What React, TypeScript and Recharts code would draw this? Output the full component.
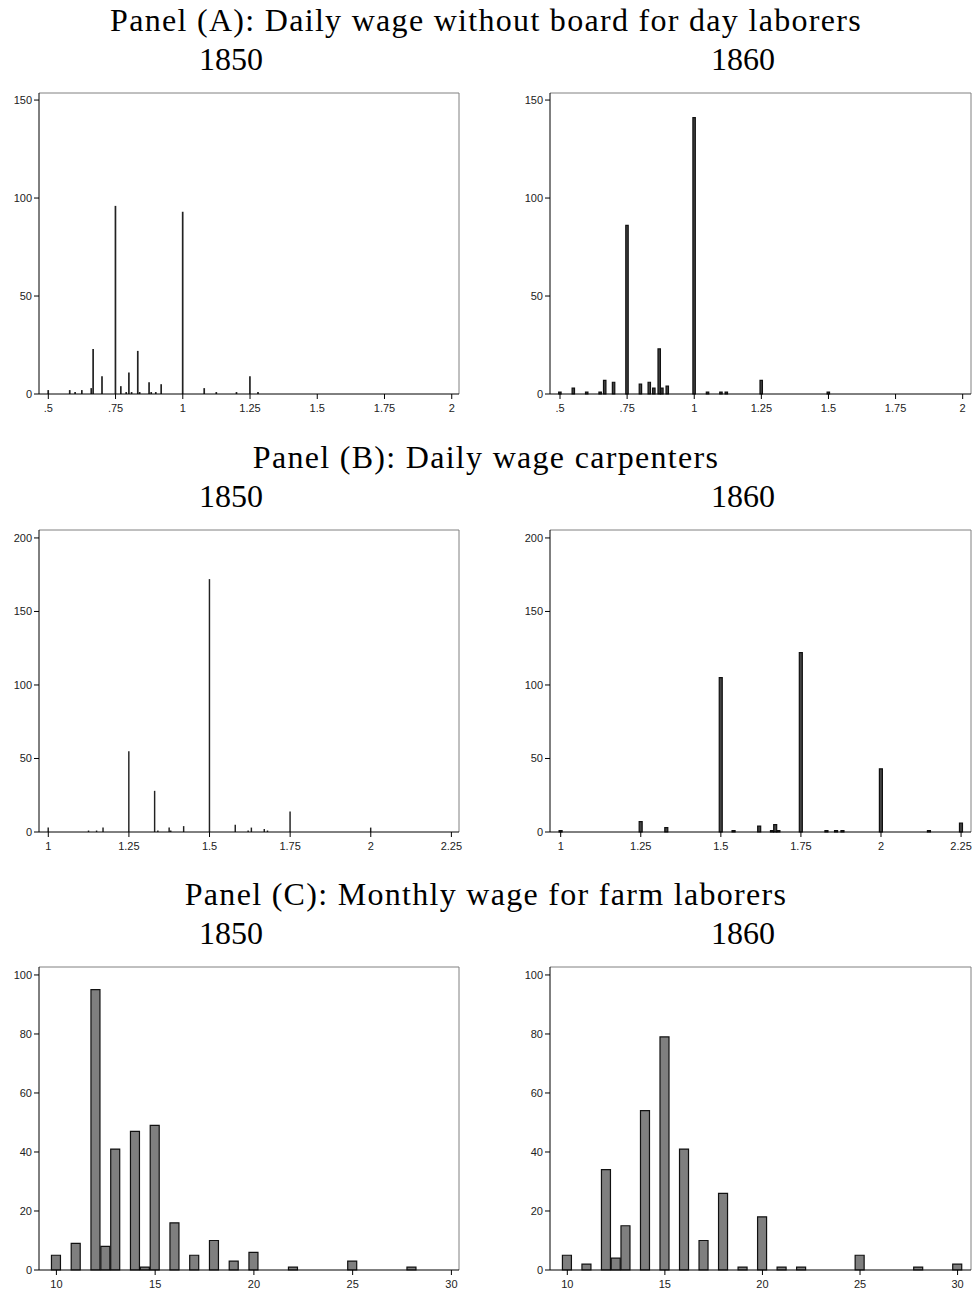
import React from 'react';
import { BarChart, Bar, XAxis, YAxis, ReferenceLine } from 'recharts';

// Panel A: daily wage without board, day laborers
const aWage1850 = [0.5, 0.58, 0.6, 0.625, 0.66, 0.667, 0.7, 0.75, 0.77, 0.79, 0.8, 0.81, 0.833, 0.84, 0.875, 0.883, 0.9, 0.92, 1.0, 1.08, 1.125, 1.2, 1.25, 1.28];
const aCount1850 = [2, 2, 1, 2, 3, 23, 9, 96, 4, 1, 11, 1, 22, 1, 6, 1, 1, 5, 93, 3, 1, 1, 9, 1];
const aWage1860 = [0.5, 0.55, 0.6, 0.65, 0.667, 0.7, 0.75, 0.8, 0.833, 0.85, 0.87, 0.88, 0.9, 1.0, 1.05, 1.1, 1.12, 1.25, 1.5];
const aCount1860 = [1, 3, 1, 1, 7, 6, 86, 5, 6, 3, 23, 3, 4, 141, 1, 1, 1, 7, 1];

// Panel B: daily wage carpenters
const bWage1850 = [1.0, 1.125, 1.15, 1.17, 1.25, 1.33, 1.34, 1.375, 1.38, 1.42, 1.5, 1.58, 1.62, 1.63, 1.67, 1.68, 1.75, 2.0];
const bCount1850 = [3, 1, 1, 3, 55, 28, 1, 3, 1, 4, 172, 5, 1, 3, 2, 1, 14, 3];
const bWage1860 = [1.0, 1.25, 1.33, 1.5, 1.54, 1.62, 1.66, 1.67, 1.68, 1.75, 1.83, 1.86, 1.88, 2.0, 2.15, 2.25];
const bCount1860 = [1, 7, 3, 105, 1, 4, 1, 5, 1, 122, 1, 1, 1, 43, 1, 6];

// Panel C: monthly wage for farm laborers
const cWage1850 = [10, 11, 12, 12.5, 13, 14, 14.5, 15, 16, 17, 18, 19, 20, 22, 25, 28];
const cCount1850 = [5, 9, 95, 8, 41, 47, 1, 49, 16, 5, 10, 3, 6, 1, 3, 1];
const cWage1860 = [10, 11, 12, 12.5, 13, 14, 15, 16, 17, 18, 19, 20, 21, 22, 25, 28, 30];
const cCount1860 = [5, 2, 34, 4, 15, 54, 79, 41, 10, 26, 1, 18, 1, 1, 5, 1, 2];

const aTicks = [0.5, 0.75, 1, 1.25, 1.5, 1.75, 2];
const bTicks = [1, 1.25, 1.5, 1.75, 2, 2.25];
const cTicks = [10, 15, 20, 25, 30];
const aYTicks = [0, 50, 100, 150];
const bYTicks = [0, 50, 100, 150, 200];
const cYTicks = [0, 20, 40, 60, 80, 100];

const zip = (xs: number[], ys: number[]) => xs.map((x, i) => ({ x, n: ys[i] }));
const fmt = (v: number) => String(v).replace(/^0\./, '.');

const tickFont = { fontSize: 11, fontFamily: 'Liberation Sans, Arial, sans-serif', fill: '#222' };
const Y_AXIS_W = 39;
const RIGHT_PAD = 14;

interface HistProps {
  data: { x: number; n: number }[];
  left: number;
  top: number;
  plotW: number;
  plotH: number;
  xDomain: [number, number];
  yDomain: [number, number];
  xTicks: number[];
  yTicks: number[];
  barSize: number;
  fill: string;
  stroke?: string;
}

const Hist: React.FC<HistProps> = ({ data, left, top, plotW, plotH, xDomain, yDomain, xTicks, yTicks, barSize, fill, stroke }) => (
  <div style={{ position: 'absolute', left: left - Y_AXIS_W, top: top - 5 }}>
    <BarChart
      width={Y_AXIS_W + plotW + RIGHT_PAD}
      height={5 + plotH + 30}
      data={data}
      margin={{ top: 5, right: RIGHT_PAD, left: 0, bottom: 0 }}
    >
      <XAxis
        dataKey="x"
        type="number"
        domain={xDomain}
        ticks={xTicks}
        tickFormatter={fmt}
        interval={0}
        height={30}
        tickSize={5}
        tickMargin={5}
        tick={tickFont}
        axisLine={{ stroke: '#000' }}
        tickLine={{ stroke: '#000' }}
      />
      <YAxis
        type="number"
        domain={yDomain}
        ticks={yTicks}
        interval={0}
        width={Y_AXIS_W}
        tickSize={5}
        tick={tickFont}
        axisLine={{ stroke: '#000' }}
        tickLine={{ stroke: '#000' }}
      />
      {/* grey frame on top and right, as in the Stata graph */}
      <ReferenceLine y={yDomain[1]} stroke="#808080" ifOverflow="visible" />
      <ReferenceLine x={xDomain[1]} stroke="#808080" ifOverflow="visible" />
      <Bar dataKey="n" barSize={barSize} fill={fill} stroke={stroke} strokeWidth={stroke ? 1.2 : 0} isAnimationActive={false} />
    </BarChart>
  </div>
);

const titleStyle = { fontFamily: 'Liberation Serif, serif', fontSize: 32, fill: '#000', letterSpacing: 1.3 } as const;
const yearStyle = { fontFamily: 'Liberation Serif, serif', fontSize: 32, fill: '#000' } as const;

export default function App() {
  const leftX = 39;
  const rightX = 550;
  return (
    <div style={{ position: 'absolute', left: 0, top: 0, width: 972, height: 1294, background: '#fff', overflow: 'hidden' }}>
      <svg width={972} height={1294} style={{ position: 'absolute', left: 0, top: 0 }}>
        <text x={486} y={31} textAnchor="middle" style={titleStyle}>Panel (A): Daily wage without board for day laborers</text>
        <text x={231} y={70} textAnchor="middle" style={yearStyle}>1850</text>
        <text x={743} y={70} textAnchor="middle" style={yearStyle}>1860</text>
        <text x={486} y={468} textAnchor="middle" style={titleStyle}>Panel (B): Daily wage carpenters</text>
        <text x={231} y={507} textAnchor="middle" style={yearStyle}>1850</text>
        <text x={743} y={507} textAnchor="middle" style={yearStyle}>1860</text>
        <text x={486} y={905} textAnchor="middle" style={titleStyle}>Panel (C): Monthly wage for farm laborers</text>
        <text x={231} y={944} textAnchor="middle" style={yearStyle}>1850</text>
        <text x={743} y={944} textAnchor="middle" style={yearStyle}>1860</text>
      </svg>

      <Hist data={zip(aWage1850, aCount1850)} left={leftX} top={93} plotW={420} plotH={301}
        xDomain={[0.4654, 2.027]} yDomain={[0, 153.6]} xTicks={aTicks} yTicks={aYTicks}
        barSize={2} fill="#222" />
      <Hist data={zip(aWage1860, aCount1860)} left={rightX} top={93} plotW={421} plotH={301}
        xDomain={[0.4627, 2.031]} yDomain={[0, 153.6]} xTicks={aTicks} yTicks={aYTicks}
        barSize={3} fill="#444" stroke="#111" />

      <Hist data={zip(bWage1850, bCount1850)} left={leftX} top={530} plotW={420} plotH={302}
        xDomain={[0.9712, 2.2736]} yDomain={[0, 205.4]} xTicks={bTicks} yTicks={bYTicks}
        barSize={2} fill="#222" />
      <Hist data={zip(bWage1860, bCount1860)} left={rightX} top={530} plotW={421} plotH={302}
        xDomain={[0.9666, 2.281]} yDomain={[0, 205.4]} xTicks={bTicks} yTicks={bYTicks}
        barSize={3} fill="#444" stroke="#111" />

      <Hist data={zip(cWage1850, cCount1850)} left={leftX} top={967} plotW={420} plotH={303}
        xDomain={[9.119, 30.385]} yDomain={[0, 102.7]} xTicks={cTicks} yTicks={cYTicks}
        barSize={9} fill="#7f7f7f" stroke="#111" />
      <Hist data={zip(cWage1860, cCount1860)} left={rightX} top={967} plotW={421} plotH={303}
        xDomain={[9.113, 30.687]} yDomain={[0, 102.7]} xTicks={cTicks} yTicks={cYTicks}
        barSize={9} fill="#7f7f7f" stroke="#111" />
    </div>
  );
}
